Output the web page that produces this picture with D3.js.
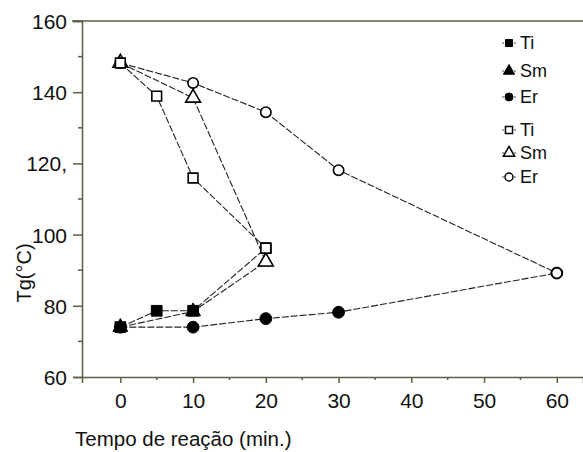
<!DOCTYPE html>
<html>
<head>
<meta charset="utf-8">
<script src="https://cdn.jsdelivr.net/npm/d3@7"></script>
<style>
  body { margin: 0; background: #fff; }
  svg text { font-family: "Liberation Sans", Arial, sans-serif; fill: #111; }
</style>
</head>
<body>
<div id="graphWrapper"></div>
<script>
//data
const xTicks = [0, 10, 20, 30, 40, 50, 60];
const yTicks = [60, 80, 100, 120, 140, 160];
const yTickLabels = ['60', '80', '100', '120,', '140', '160'];

const seriesNames = ['Ti', 'Sm', 'Er', 'Ti', 'Sm', 'Er'];
const seriesShapes = ['square', 'triangle', 'circle', 'square', 'triangle', 'circle'];
const seriesFilled = [true, true, true, false, false, false];

const tiFilledX = [0, 5, 10, 20];
const tiFilledY = [74, 78.6, 78.6, 96.2];
const smFilledX = [0, 10, 20];
const smFilledY = [74, 78.4, 92.4];
const erFilledX = [0, 10, 20, 30, 60];
const erFilledY = [74, 74, 76.4, 78.2, 89.2];
const tiOpenX = [0, 5, 10, 20];
const tiOpenY = [148.2, 138.9, 115.9, 96.2];
const smOpenX = [0, 10, 20];
const smOpenY = [148.2, 138.4, 92.4];
const erOpenX = [0, 10, 20, 30, 60];
const erOpenY = [148.2, 142.6, 134.4, 118.1, 89.2];

const CONSTANTS = {
    WIDTH: 583,
    HEIGHT: 452,
    LEFT: 82,     //y axis line
    RIGHT: 583,
    TOP: 21,      //top frame line
    BOTTOM: 377,  //x axis line
    AXIS_COLOR: '#5e5d44'
};

const svg = d3.select('#graphWrapper')
    .append('svg')
    .attr('width', CONSTANTS.WIDTH)
    .attr('height', CONSTANTS.HEIGHT);

const xScale = d3.scaleLinear().domain([-5.27, 63.6]).range([CONSTANTS.LEFT, CONSTANTS.RIGHT]);
const yScale = d3.scaleLinear().domain([60, 160]).range([CONSTANTS.BOTTOM, CONSTANTS.TOP]);

function zip(xs, ys) {
    return xs.map((x, i) => [x, ys[i]]);
}

const series = [
    zip(tiFilledX, tiFilledY),
    zip(smFilledX, smFilledY),
    zip(erFilledX, erFilledY),
    zip(tiOpenX, tiOpenY),
    zip(smOpenX, smOpenY),
    zip(erOpenX, erOpenY)
];

//marker drawing order, so the filled squares sit on top like in the scan
const drawOrder = [1, 2, 0, 4, 5, 3];

buildAxes();
buildLines();
buildMarkers();
buildLegend();
buildTitles();

function buildAxes() {
    //top frame line
    svg.append('line')
        .attr('x1', 72).attr('x2', CONSTANTS.RIGHT)
        .attr('y1', CONSTANTS.TOP).attr('y2', CONSTANTS.TOP)
        .attr('stroke', CONSTANTS.AXIS_COLOR).attr('stroke-width', 1.5);

    const yAxis = d3.axisLeft(yScale).tickValues(yTicks)
        .tickFormat((d, i) => yTickLabels[i]).tickSize(9).tickPadding(6);
    const gy = svg.append('g')
        .attr('transform', 'translate(' + CONSTANTS.LEFT + ',0)')
        .call(yAxis);

    const xAxis = d3.axisBottom(xScale).tickValues(xTicks).tickSize(6).tickPadding(10);
    const gx = svg.append('g')
        .attr('transform', 'translate(0,' + CONSTANTS.BOTTOM + ')')
        .call(xAxis);

    [gx, gy].forEach(g => {
        g.select('.domain').attr('stroke', CONSTANTS.AXIS_COLOR).attr('stroke-width', 1.5);
        g.selectAll('.tick line').attr('stroke', CONSTANTS.AXIS_COLOR).attr('stroke-width', 1.5);
        g.selectAll('.tick text')
            .style('font-size', '21px')
            .style('font-family', '"Liberation Sans", Arial, sans-serif')
            .attr('fill', '#111');
    });
    gy.selectAll('.tick text').attr('dy', '0.36em');

    //minor ticks
    const yMinor = [70, 90, 110, 130, 150];
    svg.append('g').selectAll('line').data(yMinor).enter().append('line')
        .attr('x1', CONSTANTS.LEFT - 4).attr('x2', CONSTANTS.LEFT)
        .attr('y1', d => yScale(d)).attr('y2', d => yScale(d))
        .attr('stroke', CONSTANTS.AXIS_COLOR).attr('stroke-width', 1.5);
    const xMinor = [5, 15, 25, 35, 45, 55];
    svg.append('g').selectAll('line').data(xMinor).enter().append('line')
        .attr('x1', d => xScale(d)).attr('x2', d => xScale(d))
        .attr('y1', CONSTANTS.BOTTOM).attr('y2', CONSTANTS.BOTTOM + 3)
        .attr('stroke', CONSTANTS.AXIS_COLOR).attr('stroke-width', 1.5);
}

function buildLines() {
    const line = d3.line().x(d => xScale(d[0])).y(d => yScale(d[1]));
    svg.append('g').selectAll('path')
        .data(series)
        .enter()
        .append('path')
        .attr('d', line)
        .attr('fill', 'none')
        .attr('stroke', '#222')
        .attr('stroke-width', 1.1)
        .attr('stroke-dasharray', '7,2');
}

function shapePath(shape, size) {
    const sym = shape === 'square' ? d3.symbolSquare : shape === 'triangle' ? d3.symbolTriangle : d3.symbolCircle;
    return d3.symbol().type(sym).size(size)();
}

function buildMarkers() {
    drawOrder.forEach(s => {
        const pts = series[s];
        const filled = seriesFilled[s];
        const shape = seriesShapes[s];
        const size = shape === 'square' ? (filled ? 115 : 95) : shape === 'triangle' ? 95 : (filled ? 110 : 85);
        svg.append('g').selectAll('path')
            .data(pts)
            .enter()
            .append('path')
            .attr('transform', d => 'translate(' + xScale(d[0]) + ',' + yScale(d[1]) + ')')
            .attr('d', shapePath(shape, size))
            .attr('fill', filled ? '#000' : '#fff')
            .attr('stroke', '#000')
            .attr('stroke-width', filled ? 1 : 1.6);
    });
}

function buildLegend() {
    const legendY = [43, 71, 97, 130, 153, 177];
    const g = svg.append('g');
    seriesNames.forEach((name, i) => {
        const x = 509;
        const y = legendY[i];
        const shape = seriesShapes[i];
        //little connector stub behind the marker
        g.append('line')
            .attr('x1', x - 7).attr('x2', x + 7)
            .attr('y1', y).attr('y2', y)
            .attr('stroke', '#444').attr('stroke-width', 1).attr('stroke-dasharray', '2,2');
        g.append('path')
            .attr('transform', 'translate(' + x + ',' + y + ')')
            .attr('d', shapePath(shape, shape === 'triangle' ? 55 : 50))
            .attr('fill', seriesFilled[i] ? '#000' : '#fff')
            .attr('stroke', '#000')
            .attr('stroke-width', seriesFilled[i] ? 1 : 1.5);
        g.append('text')
            .attr('x', x + 11)
            .attr('y', y)
            .attr('dy', '0.36em')
            .style('font-size', '18px')
            .text(name);
    });
}

function buildTitles() {
    svg.append('text')
        .attr('x', 75)
        .attr('y', 446)
        .style('font-size', '20.5px')
        .text('Tempo de reação (min.)');

    svg.append('text')
        .attr('transform', 'translate(31,273) rotate(-90)')
        .attr('text-anchor', 'middle')
        .style('font-size', '20px')
        .text('Tg(°C)');
}
</script>
</body>
</html>
